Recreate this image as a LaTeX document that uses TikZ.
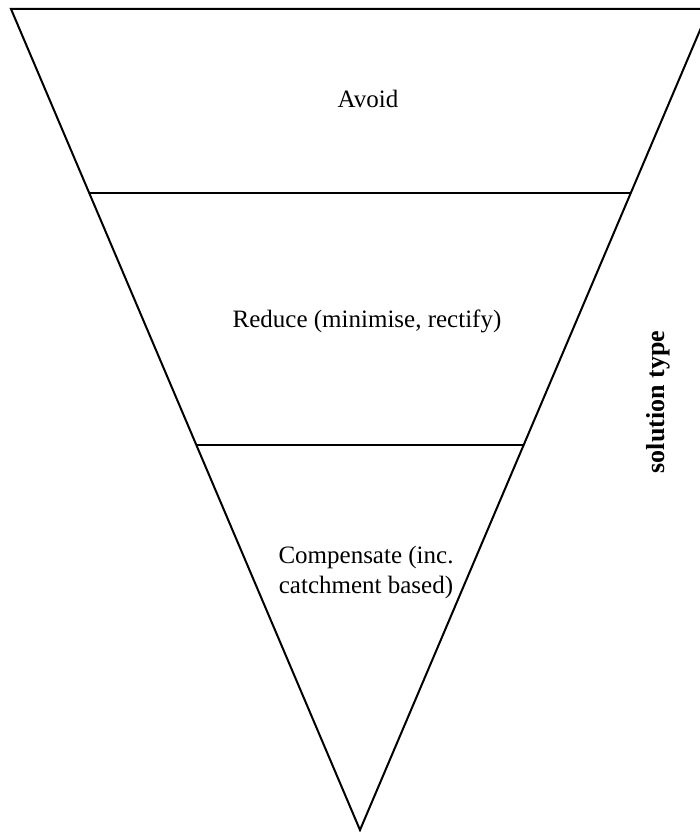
\documentclass[tikz,border=0pt]{standalone}
\usepackage{fontspec}
\setmainfont{Liberation Serif}
\begin{document}
\begin{tikzpicture}[x=1pt,y=-1pt,
  edge/.style={line width=2pt,line join=miter},
  label/.style={font=\fontsize{25}{30}\selectfont,align=center,inner sep=0pt},
  side/.style={font=\fontsize{26}{30}\selectfont\bfseries,rotate=90,inner sep=0pt}]
\useasboundingbox (0,0) rectangle (699,832);
% corners of the inverted triangle (the right corner runs past the page edge)
\coordinate (tl) at (11,9);
\coordinate (tr) at (709,9);
\coordinate (apex) at (360,830);
\draw[edge] (tl) -- (tr) -- (apex) -- cycle;
% band dividers
\coordinate (l1) at (intersection of tl--apex and 0,193--699,193);
\coordinate (r1) at (intersection of tr--apex and 0,193--699,193);
\coordinate (l2) at (intersection of tl--apex and 0,445--699,445);
\coordinate (r2) at (intersection of tr--apex and 0,445--699,445);
\draw[edge] (l1) -- (r1);
\draw[edge] (l2) -- (r2);
% band labels
\node[label] (avoid) at (368,99) {Avoid};
\node[label] (reduce) at (367,321) {Reduce (minimise, rectify)};
\node[label] (comp) at (366,572) {Compensate (inc.\\catchment based)};
\node[side] (type) at (658,402) {solution type};
\end{tikzpicture}
\end{document}
